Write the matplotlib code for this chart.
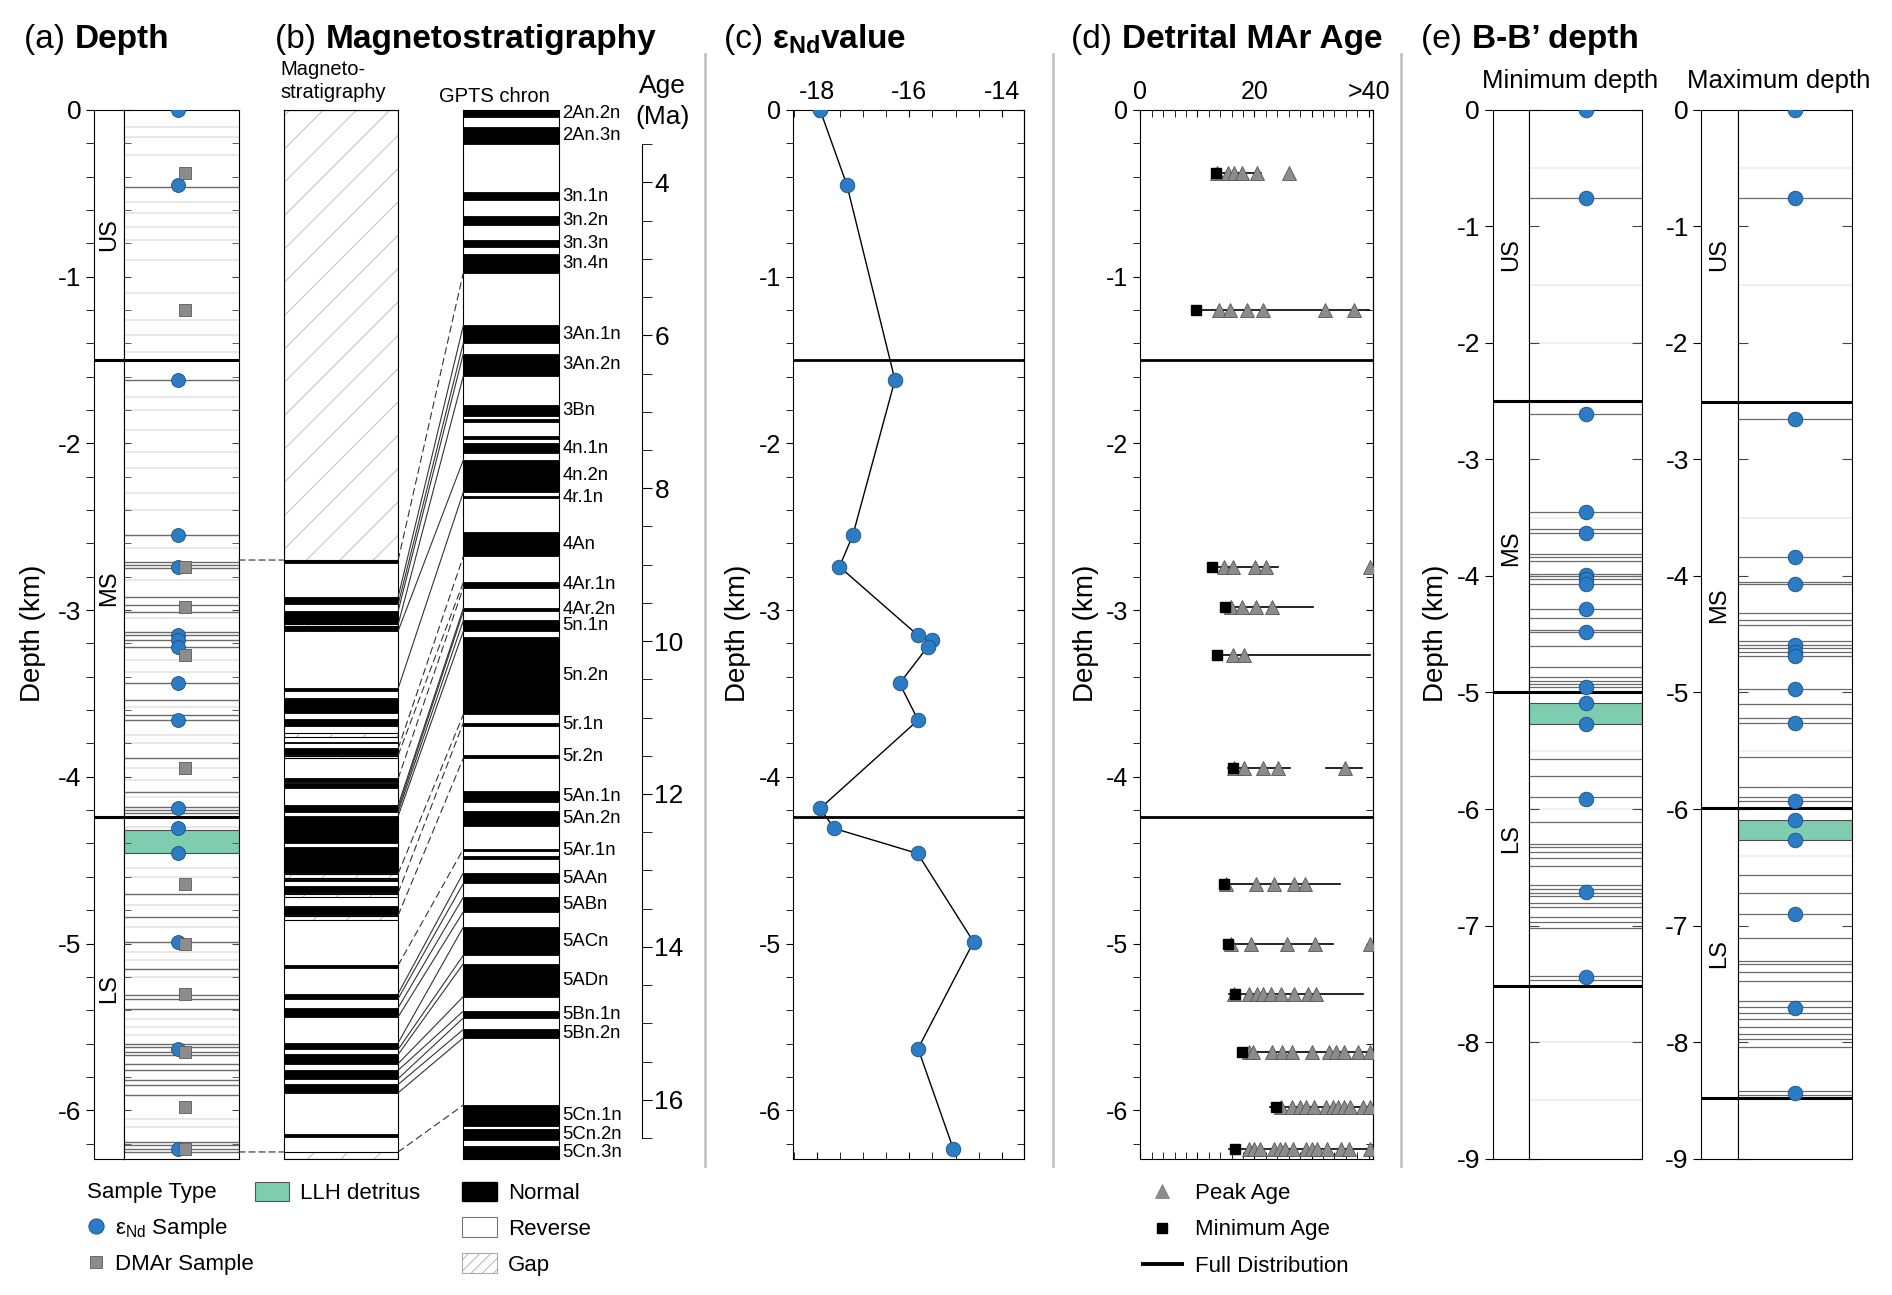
import matplotlib
matplotlib.use('Agg')
import matplotlib.pyplot as plt
import numpy as np
from matplotlib.patches import Rectangle, Patch, ConnectionPatch
from matplotlib.lines import Line2D
from matplotlib.ticker import MultipleLocator, FixedLocator, FixedFormatter, NullLocator, NullFormatter

plt.rcParams['font.family'] = ['Liberation Sans', 'DejaVu Sans']
plt.rcParams['axes.unicode_minus'] = False
plt.rcParams['mathtext.fontset'] = 'custom'
plt.rcParams['mathtext.rm'] = 'Liberation Sans'
plt.rcParams['mathtext.bf'] = 'Liberation Sans:bold'
plt.rcParams['mathtext.it'] = 'Liberation Sans:italic'
plt.rcParams['hatch.linewidth'] = 0.6

BLUE = '#2b7cc4'
BLUE_EDGE = '#1d4f80'
GREY = '#8c8c8c'
GREEN = '#7fcdb1'

# ---------------- data ----------------
# eNd samples (depth km, value)
end_depth = [0.0, -0.45, -1.62, -2.55, -2.74, -3.15, -3.18, -3.22, -3.44, -3.66, -4.19, -4.31, -4.46, -4.99, -5.63, -6.23]
end_value = [-17.93, -17.35, -16.31, -17.22, -17.51, -15.82, -15.50, -15.60, -16.21, -15.81, -17.93, -17.62, -15.82, -14.61, -15.81, -15.05]

# detrital MAr samples
dmar_depth = [-0.38, -1.20, -2.74, -2.98, -3.27, -3.95, -4.64, -5.00, -5.30, -5.65, -5.98, -6.23]
dmar_min_age = [13.2, 9.8, 12.6, 14.9, 13.4, 16.3, 14.7, 15.4, 16.6, 17.8, 23.7, 16.6]
dmar_peaks = [
    [13.5, 15.3, 16.5, 17.9, 20.5, 26.1],
    [13.8, 15.7, 18.7, 21.5, 32.4, 37.4],
    [14.7, 16.2, 20.1, 22.1, 40.2],
    [15.9, 17.8, 20.2, 23.1],
    [16.2, 18.1],
    [16.5, 18.2, 21.5, 24.1, 35.9],
    [15.0, 20.2, 23.4, 26.9, 28.8],
    [15.9, 19.4, 25.7, 30.7, 40.2],
    [16.5, 19.0, 20.5, 21.5, 22.9, 24.7, 26.9, 29.4, 30.8],
    [19.0, 19.7, 23.1, 24.9, 26.6, 30.0, 33.1, 34.3, 35.7, 38.1, 40.2],
    [24.7, 26.5, 27.9, 29.1, 30.4, 32.5, 33.7, 34.7, 35.7, 36.8, 39.1, 40.2],
    [19.1, 20.0, 20.9, 23.5, 24.4, 25.3, 26.8, 29.1, 30.0, 30.9, 32.8, 35.2, 36.6, 40.2],
]
dmar_ranges = [
    [(12.6, 21.2)], [(9.8, 40.0)], [(12.6, 24.1)], [(14.9, 30.3)], [(13.4, 40.3)],
    [(15.3, 26.2), (32.6, 38.8)], [(14.7, 35.0)], [(15.4, 33.8)], [(15.5, 39.0)],
    [(17.8, 40.8)], [(22.8, 40.8)], [(15.5, 40.8)],
]

# panel (a) stratigraphy
unit_names = ['US', 'MS', 'LS']
a_unit_bounds = [-1.50, -4.24]
a_unit_label_depth = [-0.75, -2.87, -5.27]
a_llh = (-4.32, -4.46)
a_dark = [-0.46, -1.62, -2.55, -2.71, -2.73, -2.75, -2.92, -2.97, -3.01, -3.13, -3.15, -3.18, -3.22,
          -3.44, -3.54, -3.63, -3.66, -3.89, -4.09, -4.18, -4.20, -4.22, -4.70, -4.84, -4.99, -5.15,
          -5.31, -5.33, -5.39, -5.60, -5.62, -5.65, -5.67, -5.72, -5.76, -5.82, -5.85, -5.91, -6.19,
          -6.21, -6.23, -6.25]
a_light = [-0.10, -0.16, -0.27, -0.55, -0.62, -0.70, -0.78, -0.90, -1.10, -1.26, -1.35, -1.45, -1.72,
           -1.80, -1.92, -2.05, -2.15, -2.30, -2.40, -2.63, -2.82, -3.05, -3.30, -3.37, -3.58, -3.75,
           -3.80, -3.95, -4.02, -4.12, -4.30, -4.55, -4.60, -4.77, -4.90, -5.05, -5.10, -5.20, -5.45,
           -5.50, -5.55, -6.05, -6.10]

# panel (b) magnetostratigraphy (depth km)
mag_norm_top = [-2.700, -2.920, -3.005, -3.095, -3.470, -3.530, -3.655, -3.790, -3.830, -4.010, -4.040,
                -4.170, -4.235, -4.420, -4.615, -4.655, -4.775, -5.130, -5.300, -5.385, -5.595, -5.665,
                -5.760, -5.845, -6.145]
mag_norm_bot = [-2.715, -2.965, -3.085, -3.125, -3.485, -3.620, -3.695, -3.800, -3.870, -4.030, -4.070,
                -4.210, -4.400, -4.580, -4.625, -4.695, -4.830, -5.145, -5.330, -5.440, -5.635, -5.720,
                -5.810, -5.895, -6.160]
mag_gap_top = [0.0, -3.085, -3.740, -3.875, -4.585, -4.700, -4.835, -6.250]
mag_gap_bot = [-2.700, -3.095, -3.760, -3.890, -4.610, -4.720, -4.860, -6.290]
mag_links = [-2.70, -6.25]

# GPTS normal chrons (Ma)
gpts_top = [3.05, 3.27, 4.13, 4.44, 4.75, 4.94, 5.87, 6.24, 6.91, 7.10, 7.32, 7.41, 7.63, 8.10, 8.57, 9.23,
            9.57, 9.73, 9.95, 11.07, 11.49, 11.96, 12.22, 12.72, 12.81, 13.03, 13.35, 13.74, 14.22, 14.84,
            15.08, 16.07, 16.38, 16.60]
gpts_bot = [3.15, 3.50, 4.23, 4.56, 4.85, 5.18, 6.10, 6.53, 7.06, 7.13, 7.35, 7.54, 8.05, 8.13, 8.89, 9.30,
            9.61, 9.87, 10.96, 11.11, 11.53, 12.10, 12.42, 12.75, 12.85, 13.17, 13.54, 14.11, 14.65, 14.93,
            15.19, 16.34, 16.53, 16.77]
gpts_name = ['2An.2n', '2An.3n', '3n.1n', '3n.2n', '3n.3n', '3n.4n', '3An.1n', '3An.2n', '3Bn', '', '',
             '4n.1n', '4n.2n', '4r.1n', '4An', '4Ar.1n', '4Ar.2n', '5n.1n', '5n.2n', '5r.1n', '5r.2n',
             '5An.1n', '5An.2n', '5Ar.1n', '', '5AAn', '5ABn', '5ACn', '5ADn', '5Bn.1n', '5Bn.2n',
             '5Cn.1n', '5Cn.2n', '5Cn.3n']

# tie lines magnetostratigraphy -> GPTS
tie_depth = [-2.700, -2.920, -2.965, -3.005, -3.085, -3.125, -3.470, -3.830, -3.870, -4.010, -4.170,
             -4.190, -4.210, -4.235, -4.580, -4.695, -4.830, -5.130, -5.300, -5.330, -5.385, -5.440,
             -5.595, -5.635, -5.665, -5.720, -5.760, -5.810, -5.845, -5.895, -6.250]
tie_age = [5.18, 5.87, 6.10, 6.24, 6.53, 7.63, 8.05, 8.89, 9.23, 9.30, 9.57, 9.61, 9.73, 9.87, 10.96,
           11.07, 11.53, 12.72, 13.03, 13.17, 13.35, 13.54, 13.74, 14.11, 14.22, 14.65, 14.84, 14.93,
           15.08, 15.19, 16.07]
tie_dashed = [1, 0, 0, 0, 0, 0, 0, 1, 1, 1, 0, 0, 0, 0, 1, 1, 1, 1, 0, 0, 0, 0, 0, 0, 0, 0, 0, 0, 0, 0, 1]

# panel (e) B-B' depth
e_min_end = [0.0, -0.76, -2.61, -3.45, -3.63, -3.99, -4.03, -4.07, -4.28, -4.48, -4.95, -5.09, -5.27,
             -5.91, -6.71, -7.44]
e_max_end = [0.0, -0.76, -2.65, -3.84, -4.07, -4.59, -4.65, -4.69, -4.97, -5.26, -5.93, -6.09, -6.27,
             -6.90, -7.71, -8.44]
e_min_bounds = [-2.50, -5.00, -7.52]
e_max_bounds = [-2.51, -5.99, -8.48]
e_min_label_depth = [-1.24, -3.76, -6.25]
e_max_label_depth = [-1.24, -4.25, -7.24]
e_min_llh = (-5.09, -5.27)
e_max_llh = (-6.09, -6.27)
e_min_dark = [-0.76, -2.61, -3.45, -3.60, -3.63, -3.81, -3.84, -3.87, -3.98, -4.00, -4.03, -4.07, -4.28,
              -4.36, -4.46, -4.48, -4.60, -4.78, -4.87, -4.90, -4.93, -4.95, -5.57, -5.72, -5.90, -6.11,
              -6.30, -6.33, -6.37, -6.42, -6.49, -6.65, -6.69, -6.72, -6.75, -6.81, -6.84, -6.93, -6.97,
              -7.02, -7.43, -7.47]
e_min_light = [-0.50, -1.50, -2.00, -3.50, -5.50, -6.00, -8.00, -8.50]
e_max_dark = [-0.76, -2.65, -3.84, -4.05, -4.07, -4.32, -4.38, -4.42, -4.56, -4.59, -4.62, -4.65, -4.69,
              -4.97, -5.10, -5.22, -5.26, -5.55, -5.81, -5.90, -5.93, -6.57, -6.72, -6.90, -7.11, -7.30,
              -7.33, -7.40, -7.48, -7.65, -7.70, -7.75, -7.80, -7.87, -7.93, -7.97, -8.04, -8.42, -8.45]
e_max_light = [-0.50, -1.50, -3.50, -5.50, -6.40]

# ---------------- layout helpers ----------------
W, H = 1568.0, 1073.0


def fx(x):
    return x / W


def fy(y):
    return 1 - y / H


def box(x0, x1, y0=91, y1=960):
    return [fx(x0), fy(y1), fx(x1) - fx(x0), fy(y0) - fy(y1)]


fig = plt.figure(figsize=(18.92, 12.95), dpi=100)
bg = fig.add_axes([0, 0, 1, 1], zorder=-1)
bg.set_xlim(0, 1)
bg.set_ylim(0, 1)
bg.axis('off')

TICK_FS = 19
SMALL_FS = 18
TITLE_FS = 24


def panel_title(x, letter, name):
    t = bg.text(fx(x), fy(40), letter + ' ', fontsize=TITLE_FS, ha='left', va='baseline')
    bg.annotate(name, xy=(1, fy(40)), xycoords=(t, 'data'), fontsize=TITLE_FS, weight='bold',
                ha='left', va='baseline')
    return t


def depth_label(x):
    bg.text(fx(x), fy(525), 'Depth (km)', rotation=90, fontsize=20, ha='center', va='center')


def unit_axes(ax, ylim, major, minor):
    ax.set_xlim(0, 1)
    ax.set_ylim(*ylim)
    ax.xaxis.set_major_locator(NullLocator())
    ax.yaxis.set_major_locator(MultipleLocator(major))
    if minor:
        ax.yaxis.set_minor_locator(MultipleLocator(minor))
    else:
        ax.yaxis.set_minor_locator(NullLocator())
    ax.yaxis.set_major_formatter(plt.FuncFormatter(lambda v, p: '%g' % v))
    ax.tick_params(axis='y', which='both', left=True, right=False, direction='out', length=6,
                   labelsize=TICK_FS, pad=3)


def sample_axes(ax, ylim, major, minor, length):
    ax.set_xlim(0, 1)
    ax.set_ylim(*ylim)
    ax.xaxis.set_major_locator(NullLocator())
    ax.yaxis.set_major_locator(MultipleLocator(major))
    if minor:
        ax.yaxis.set_minor_locator(MultipleLocator(minor))
    ax.tick_params(axis='y', which='both', left=True, right=True, direction='in', length=length,
                   labelleft=False, color='#444444')


def right_ticks(ax, major, minor):
    sec = ax.secondary_yaxis('right')
    sec.yaxis.set_major_locator(MultipleLocator(major))
    sec.yaxis.set_minor_locator(MultipleLocator(minor))
    sec.yaxis.set_major_formatter(NullFormatter())
    sec.tick_params(which='both', direction='in', length=5)


# ---------------- (a) Depth ----------------
panel_title(20, '(a)', 'Depth')
depth_label(27)
ax_au = fig.add_axes(box(78, 103))
ax_as = fig.add_axes(box(103, 198))
unit_axes(ax_au, (-6.29, 0), 1, 0.2)
sample_axes(ax_as, (-6.29, 0), 1, 0.2, 5)
for d in a_light:
    ax_as.axhline(d, color='#e4e4e4', lw=1.2, zorder=1)
for d in a_dark:
    ax_as.axhline(d, color='#6a6a6a', lw=1.0, zorder=2)
ax_as.axhspan(a_llh[1], a_llh[0], fc=GREEN, ec='#4a4a4a', lw=0.8, zorder=1.5)
for b in a_unit_bounds:
    ax_au.axhline(b, color='k', lw=2.2, zorder=3)
    ax_as.axhline(b, color='k', lw=2.2, zorder=3)
for name, d in zip(unit_names, a_unit_label_depth):
    ax_au.text(0.5, d, name, rotation=90, ha='center', va='center', fontsize=17)
ax_as.plot(np.full(len(end_depth), 0.47), end_depth, 'o', ms=10, mfc=BLUE, mec=BLUE_EDGE, mew=0.6, zorder=4)
ax_as.plot(np.full(len(dmar_depth), 0.53), dmar_depth, 's', ms=8.5, mfc=GREY, mec='#5a5a5a', mew=0.6, zorder=5)

# ---------------- (b) Magnetostratigraphy ----------------
panel_title(228, '(b)', 'Magnetostratigraphy')
bg.text(fx(232), fy(67), 'Magneto-\nstratigraphy', fontsize=14.5, ha='left', va='center', linespacing=1.3)
bg.text(fx(410), fy(80), 'GPTS chron', fontsize=14.5, ha='center', va='center')
bg.text(fx(549), fy(84), 'Age\n(Ma)', fontsize=TICK_FS, ha='center', va='center', linespacing=1.35)

ax_mag = fig.add_axes(box(235, 330))
ax_mag.set_xlim(0, 1)
ax_mag.set_ylim(-6.29, 0)
ax_mag.set_xticks([])
ax_mag.set_yticks([])
for t, b in zip(mag_norm_top, mag_norm_bot):
    ax_mag.add_patch(Rectangle((0, b), 1, t - b, fc='k', ec='k', lw=0.6))
for t, b in zip(mag_gap_top, mag_gap_bot):
    ax_mag.add_patch(Rectangle((0, b), 1, t - b, fc='none', ec='#b3b3b3', hatch='/', lw=0))
    ax_mag.add_patch(Rectangle((0, b), 1, t - b, fc='none', ec='k', lw=0.8))

ax_gp = fig.add_axes(box(384, 463))
ax_gp.set_xlim(0, 1)
ax_gp.set_ylim(16.77, 3.05)
ax_gp.set_xticks([])
ax_gp.set_yticks([])
for t, b, name in zip(gpts_top, gpts_bot, gpts_name):
    ax_gp.add_patch(Rectangle((0, t), 1, b - t, fc='k', ec='k', lw=0.6))
    if name:
        ax_gp.text(1.04, (t + b) / 2, name, transform=ax_gp.get_yaxis_transform(),
                   fontsize=13.3, ha='left', va='center')

ax_age = fig.add_axes(box(520, 532))
ax_age.set_ylim(16.77, 3.05)
ax_age.set_xticks([])
for s in ['left', 'top', 'bottom']:
    ax_age.spines[s].set_visible(False)
ax_age.patch.set_visible(False)
ax_age.spines['right'].set_bounds(3.5, 16.5)
ax_age.yaxis.set_ticks_position('right')
ax_age.yaxis.set_major_locator(MultipleLocator(2))
ax_age.yaxis.set_minor_locator(MultipleLocator(0.5))
ax_age.yaxis.set_major_formatter(plt.FuncFormatter(lambda v, p: '%g' % v))
ax_age.tick_params(which='both', direction='out', length=7, labelsize=TICK_FS, pad=2)

for d, a, dsh in zip(tie_depth, tie_age, tie_dashed):
    con = ConnectionPatch(xyA=(1, d), coordsA='data', axesA=ax_mag, xyB=(0, a), coordsB='data',
                          axesB=ax_gp, color='#333333', lw=0.8,
                          ls=(0, (6, 4)) if dsh else '-')
    fig.add_artist(con)
for d in mag_links:
    con = ConnectionPatch(xyA=(1, d), coordsA='data', axesA=ax_as, xyB=(0, d), coordsB='data',
                          axesB=ax_mag, color='#444444', lw=0.9, ls=(0, (5, 3)))
    fig.add_artist(con)

# ---------------- (c) eNd value ----------------
t = bg.text(fx(600), fy(40), '(c) ', fontsize=TITLE_FS, ha='left', va='baseline')
bg.annotate(r'$\mathbf{ε_{Nd}value}$', xy=(1, fy(40)), xycoords=(t, 'data'), fontsize=TITLE_FS,
            ha='left', va='baseline')
depth_label(612)
ax_c = fig.add_axes(box(657, 849))
ax_c.set_xlim(-18.52, -13.51)
ax_c.set_ylim(-6.29, 0)
for b in a_unit_bounds:
    ax_c.axhline(b, color='k', lw=2.0, zorder=1)
ax_c.plot(end_value, end_depth, '-', color='k', lw=1.0, zorder=2)
ax_c.plot(end_value, end_depth, 'o', ms=10.5, mfc=BLUE, mec=BLUE_EDGE, mew=0.6, zorder=3)

# ---------------- (d) Detrital MAr Age ----------------
panel_title(888, '(d)', 'Detrital MAr Age')
depth_label(900)
ax_d = fig.add_axes(box(945, 1138))
ax_d.set_xlim(0, 40.8)
ax_d.set_ylim(-6.29, 0)
for b in a_unit_bounds:
    ax_d.axhline(b, color='k', lw=2.0, zorder=1)
for d, mn, pk, rng in zip(dmar_depth, dmar_min_age, dmar_peaks, dmar_ranges):
    for lo, hi in rng:
        ax_d.plot([lo, hi], [d, d], '-', color='k', lw=1.2, zorder=2)
    ax_d.plot(pk, np.full(len(pk), d), '^', ms=10, mfc=GREY, mec='#555555', mew=0.6, zorder=3)
    ax_d.plot([mn], [d], 's', ms=7, color='k', zorder=4)

for ax in (ax_c, ax_d):
    ax.yaxis.set_major_locator(MultipleLocator(1))
    ax.yaxis.set_minor_locator(MultipleLocator(0.2))
    ax.yaxis.set_major_formatter(plt.FuncFormatter(lambda v, p: '%g' % v))
    ax.tick_params(axis='y', which='both', left=True, right=False, direction='out', length=5,
                   labelsize=SMALL_FS)
    ax.tick_params(axis='x', which='both', top=True, bottom=True, direction='in', length=5,
                   labeltop=True, labelbottom=False, labelsize=SMALL_FS, pad=4)
    right_ticks(ax, 1, 0.2)

ax_c.xaxis.set_major_locator(MultipleLocator(2))
ax_c.xaxis.set_minor_locator(MultipleLocator(0.5))
ax_c.xaxis.set_major_formatter(plt.FuncFormatter(lambda v, p: '%g' % v))
ax_d.xaxis.set_major_locator(FixedLocator([0, 10, 20, 30, 40]))
ax_d.xaxis.set_major_formatter(FixedFormatter(['0', '', '20', '', '>40']))
ax_d.xaxis.set_minor_locator(MultipleLocator(2))

# ---------------- (e) B-B' depth ----------------
panel_title(1178, '(e)', 'B-B\u2019 depth')
depth_label(1190)
bg.text(fx(1301), fy(67), 'Minimum depth', fontsize=18.5, ha='center', va='center')
bg.text(fx(1474), fy(67), 'Maximum depth', fontsize=18.5, ha='center', va='center')

e_sets = [
    ((1237, 1267, 1361), e_min_end, e_min_bounds, e_min_label_depth, e_min_llh, e_min_dark, e_min_light),
    ((1410, 1440, 1535), e_max_end, e_max_bounds, e_max_label_depth, e_max_llh, e_max_dark, e_max_light),
]
for (x0, xm, x1), ends, bounds, ldepth, llh, dark, light in e_sets:
    au = fig.add_axes(box(x0, xm))
    asm = fig.add_axes(box(xm, x1))
    unit_axes(au, (-9, 0), 1, None)
    sample_axes(asm, (-9, 0), 1, None, 7)
    for d in light:
        asm.axhline(d, color='#ececec', lw=1.2, zorder=1)
    for d in dark:
        asm.axhline(d, color='#6a6a6a', lw=0.9, zorder=2)
    asm.axhspan(llh[1], llh[0], fc=GREEN, ec='#4a4a4a', lw=0.8, zorder=1.5)
    for b in bounds:
        au.axhline(b, color='k', lw=2.2, zorder=3)
        asm.axhline(b, color='k', lw=2.2, zorder=3)
    for name, d in zip(unit_names, ldepth):
        au.text(0.5, d, name, rotation=90, ha='center', va='center', fontsize=17)
    asm.plot(np.full(len(ends), 0.5), ends, 'o', ms=10.5, mfc=BLUE, mec=BLUE_EDGE, mew=0.6, zorder=4)

# panel separators
for x in (584, 873, 1161):
    bg.plot([fx(x), fx(x)], [fy(45), fy(966)], color='#c4c4c4', lw=2)

# ---------------- legends ----------------
leg_kw = dict(frameon=False, fontsize=16, borderpad=0, borderaxespad=0, loc='upper left')
h_end = Line2D([], [], ls='none', marker='o', ms=11, mfc=BLUE, mec=BLUE_EDGE, mew=0.6)
h_dmar = Line2D([], [], ls='none', marker='s', ms=9, mfc=GREY, mec='#5a5a5a', mew=0.6)
fig.legend([h_end, h_dmar], [r'ε$_{\mathrm{Nd}}$ Sample', 'DMAr Sample'], title='Sample Type',
           title_fontsize=16, alignment='left', bbox_to_anchor=(fx(72), fy(979)),
           handlelength=0.8, handletextpad=0.45, labelspacing=0.6, **leg_kw)
fig.legend([Patch(fc=GREEN, ec='#555555', lw=0.8)], ['LLH detritus'],
           bbox_to_anchor=(fx(211), fy(979)), handlelength=1.55, handleheight=1.0,
           handletextpad=0.5, **leg_kw)
fig.legend([Patch(fc='k', ec='k'), Patch(fc='w', ec='#777777', lw=0.8),
            Patch(fc='w', ec='#aaaaaa', hatch='///', lw=0.8)], ['Normal', 'Reverse', 'Gap'],
           bbox_to_anchor=(fx(383), fy(979)), handlelength=1.55, handleheight=1.0,
           handletextpad=0.5, labelspacing=0.6, **leg_kw)
fig.legend([Line2D([], [], ls='none', marker='^', ms=10, mfc=GREY, mec='#777777', mew=0.5),
            Line2D([], [], ls='none', marker='s', ms=7, color='k'),
            Line2D([], [], color='k', lw=2.8)], ['Peak Age', 'Minimum Age', 'Full Distribution'],
           bbox_to_anchor=(fx(947), fy(980)), handlelength=1.75, handletextpad=0.6,
           labelspacing=0.7, **leg_kw)

fig.savefig('out.png', dpi=100)
